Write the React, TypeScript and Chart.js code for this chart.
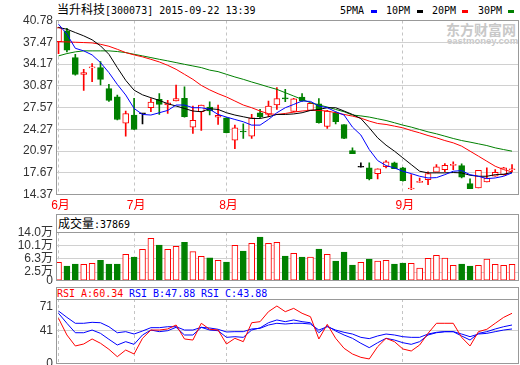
import React, { useEffect, useRef } from 'react';
import { Chart, registerables } from 'chart.js';
Chart.register(...registerables);

// ---- data ----
const opens = [37.58, 39.21, 35.15, 32.61, 33.6, 33.63, 30.43, 29.21, 25.21, 26.43, 26.62, 27.54, 28.8, 27.95, 28.56, 28.96, 24.6, 26.93, 27.65, 26.12, 26.02, 22.62, 23.92, 23.23, 26.78, 26.52, 27.95, 28.95, 26.98, 29.17, 27.13, 28.15, 24.69, 26.78, 25.0, 21.04, 18.51, 18.4, 17.54, 18.6, 19.17, 18.4, 15.2, 16.2, 16.63, 17.75, 18.15, 18.78, 18.76, 16.02, 15.36, 16.27, 17.14, 17.38, 18.12];
const closes = [39.71, 36.26, 32.61, 32.87, 33.68, 31.85, 28.65, 25.76, 26.67, 24.24, 26.62, 28.41, 28.04, 28.3, 28.91, 26.17, 25.61, 27.95, 27.04, 26.37, 23.74, 24.49, 23.85, 26.02, 26.17, 27.8, 28.91, 28.88, 28.88, 28.56, 28.2, 25.26, 27.04, 25.41, 22.87, 20.58, 18.51, 16.73, 18.25, 19.32, 18.3, 16.47, 15.3, 16.28, 17.54, 18.56, 18.8, 18.85, 16.99, 15.26, 18.05, 16.88, 17.75, 18.4, 18.18];
const highs = [39.71, 39.6, 35.65, 33.37, 34.24, 34.54, 31.08, 29.47, 27.04, 28.96, 26.62, 28.91, 29.67, 28.65, 30.99, 30.73, 27.8, 27.95, 28.45, 27.95, 26.05, 24.9, 25.1, 26.52, 27.28, 28.56, 30.58, 30.33, 28.95, 29.67, 28.3, 28.91, 27.13, 26.9, 25.0, 21.45, 19.17, 19.17, 18.25, 19.52, 19.3, 18.5, 17.38, 16.88, 17.8, 18.91, 19.06, 19.32, 19.02, 16.73, 18.05, 18.4, 18.15, 18.5, 18.91];
const lows = [35.76, 36.0, 32.5, 30.17, 31.5, 30.99, 28.5, 25.7, 23.23, 24.2, 25.1, 26.93, 26.52, 26.67, 28.56, 26.1, 23.63, 24.09, 26.43, 25.0, 23.7, 21.34, 22.87, 22.87, 26.02, 26.17, 27.28, 28.45, 26.9, 28.5, 27.1, 25.2, 24.39, 25.1, 22.85, 20.55, 18.51, 16.6, 16.73, 18.4, 18.3, 16.38, 15.1, 16.2, 15.86, 17.75, 17.85, 18.15, 16.9, 15.26, 15.36, 16.27, 17.14, 17.3, 17.8];

const ma5 = [40.22, 38.7, 36.56, 36.17, 35.56, 34.39, 32.87, 31.08, 29.47, 27.43, 26.52, 26.43, 26.78, 27.13, 27.95, 27.95, 27.54, 27.54, 27.3, 26.52, 26.12, 25.76, 25.41, 24.9, 24.9, 25.76, 26.78, 27.54, 28.04, 28.56, 28.5, 27.8, 27.54, 26.93, 26.43, 24.6, 23.4, 21.19, 19.52, 18.76, 18.4, 17.9, 17.54, 17.14, 16.88, 16.93, 17.38, 17.9, 17.99, 17.38, 17.14, 16.78, 16.88, 17.14, 17.65];
const ma10 = [39.71, 39.46, 38.95, 38.45, 37.85, 36.93, 35.65, 33.63, 31.7, 30.2, 29.5, 29.06, 28.65, 28.15, 27.8, 27.43, 27.04, 26.93, 27.39, 27.28, 26.78, 26.43, 26.17, 25.91, 25.91, 26.17, 26.52, 26.52, 26.6, 26.78, 27.13, 27.28, 27.54, 27.54, 27.04, 26.52, 25.9, 24.49, 22.97, 21.86, 20.95, 19.93, 18.91, 17.9, 17.65, 17.65, 17.65, 17.7, 17.65, 17.29, 17.14, 17.14, 17.38, 17.45, 17.7];
const ma20 = [37.58, 37.53, 37.48, 37.43, 37.38, 37.17, 36.87, 36.41, 35.91, 35.56, 35.26, 34.89, 34.49, 33.98, 33.37, 32.61, 31.85, 30.93, 30.25, 29.67, 29.17, 28.56, 27.95, 27.54, 27.04, 26.63, 26.52, 26.67, 26.88, 27.04, 27.13, 27.13, 27.04, 26.78, 26.52, 26.27, 25.96, 25.51, 25.15, 25.0, 24.75, 24.49, 24.08, 23.73, 23.32, 22.97, 22.56, 22.21, 21.71, 20.95, 20.19, 19.42, 18.66, 18.15, 17.8];
const ma30 = [35.41, 35.76, 36.02, 36.17, 36.17, 36.17, 36.17, 36.07, 35.91, 35.65, 35.41, 35.15, 34.89, 34.65, 34.39, 34.13, 33.88, 33.63, 33.25, 33.02, 32.61, 32.21, 31.85, 31.45, 31.08, 30.69, 30.33, 29.82, 29.32, 28.8, 28.3, 27.95, 27.65, 27.28, 26.93, 26.43, 26.3, 26.12, 25.86, 25.6, 25.26, 24.9, 24.6, 24.24, 23.88, 23.58, 23.23, 22.87, 22.56, 22.32, 22.06, 21.8, 21.45, 21.19, 20.95];

const volumes = [5.32, 4.25, 4.83, 4.74, 5.03, 5.9, 4.83, 4.83, 7.64, 6.86, 9.08, 12.26, 10.33, 9.08, 9.95, 11.1, 8.39, 7.06, 6.65, 5.9, 5.41, 10.24, 8.59, 10.82, 12.64, 10.82, 11.1, 7.14, 7.93, 6.86, 6.86, 9.17, 7.64, 5.7, 8.3, 4.54, 5.32, 6.28, 5.7, 5.9, 4.83, 5.12, 5.03, 3.67, 6.48, 7.35, 6.57, 4.45, 4.83, 4.25, 4.45, 6.28, 4.74, 4.45, 4.74];

const rsiA = [56.2, 35.7, 22.2, 24.6, 30.8, 25.5, 18.1, 9.0, 17.2, 12.3, 31.6, 41.8, 41.8, 43.1, 48.0, 30.8, 29.5, 50.1, 42.7, 41.8, 24.6, 31.6, 27.5, 50.8, 52.1, 64.4, 71.4, 64.4, 68.5, 62.4, 58.2, 30.8, 48.8, 31.6, 19.3, 12.3, 8.2, 6.2, 21.3, 31.6, 27.5, 18.5, 16.0, 23.4, 37.7, 50.1, 50.1, 50.1, 32.8, 22.2, 39.8, 42.7, 50.1, 57.4, 62.4];
const rsiB = [62.4, 50.1, 38.5, 38.5, 41.8, 37.7, 30.4, 23.4, 27.5, 24.2, 35.7, 41.8, 39.8, 41.0, 45.1, 35.7, 35.7, 45.1, 41.8, 41.0, 32.8, 33.6, 32.8, 41.8, 44.5, 50.8, 54.2, 52.1, 54.2, 52.1, 50.8, 38.5, 46.8, 40.6, 35.7, 31.6, 25.5, 20.1, 26.2, 31.6, 29.5, 26.2, 24.2, 27.5, 35.7, 38.5, 39.8, 39.8, 34.5, 29.5, 37.7, 39.8, 43.1, 45.9, 48.0];
const rsiC = [65.2, 57.4, 50.1, 50.1, 51.3, 50.8, 45.9, 38.5, 39.8, 36.9, 40.6, 44.7, 44.7, 45.9, 45.9, 41.8, 41.8, 45.1, 44.3, 42.7, 39.4, 39.8, 39.8, 43.1, 43.9, 48.0, 50.1, 49.2, 50.1, 50.1, 49.2, 41.8, 45.9, 41.8, 39.0, 36.9, 32.8, 31.2, 34.5, 36.9, 35.7, 33.6, 32.8, 32.8, 36.9, 39.0, 39.8, 39.8, 36.9, 33.6, 36.9, 37.7, 39.8, 41.8, 43.1];

const priceTicks = [14.37, 17.67, 20.97, 24.27, 27.57, 30.87, 34.17, 37.47, 40.78];
const volTicks = [0, 2.5, 6.3, 10.1, 14.0];
const volTickLabels = ['0', '2.5万', '6.3万', '10.1万', '14.0万'];
const rsiTicks = [0, 41, 71];
const monthIdx = [0, 9, 20, 41];
const monthLabels = ['6月', '7月', '8月', '9月'];

const RED = '#ff0000';
const GREEN = '#008000';
const BLUE = '#0000ff';
const BLACK = '#000000';
const FONT = "'Liberation Sans', Arial, 'Noto Sans CJK SC', sans-serif";

const framePlugin = {
  id: 'frame',
  afterDatasetsDraw(chart: any) {
    const { ctx, chartArea } = chart;
    const x0 = Math.floor(chartArea.left) + 0.5;
    const x1 = Math.ceil(chartArea.right) - 0.5;
    const y0 = Math.floor(chartArea.top) + 0.5;
    const y1 = Math.ceil(chartArea.bottom) - 0.5;
    ctx.save();
    ctx.strokeStyle = '#999999';
    ctx.lineWidth = 1;
    ctx.strokeRect(x0, y0, x1 - x0, y1 - y0);
    ctx.restore();
  },
};

function xScale(showLabels: boolean) {
  return {
    type: 'linear',
    min: -0.3,
    max: 54.83,
    offset: false,
    afterBuildTicks: (s: any) => {
      s.ticks = monthIdx.map((v) => ({ value: v }));
    },
    afterFit: (s: any) => {
      s.height = showLabels ? 17.5 : 0;
      s.paddingLeft = 0;
      s.paddingRight = 0;
    },
    grid: { color: '#c4c4c4', drawTicks: false, offset: false },
    border: { display: false, dash: [3, 3] },
    ticks: showLabels
      ? {
          autoSkip: false,
          maxRotation: 0,
          padding: 4,
          labelOffset: 2,
          color: RED,
          font: { family: FONT, size: 12 },
          callback: (_v: any, i: number) => monthLabels[i],
        }
      : { display: false },
  };
}

function yScale(min: number, max: number, ticks: number[], fmt: (v: number, i: number) => string, gridColor: any) {
  return {
    type: 'linear',
    min,
    max,
    afterBuildTicks: (s: any) => {
      s.ticks = ticks.map((v) => ({ value: v }));
    },
    afterFit: (s: any) => {
      s.width = 56;
      s.paddingTop = 0;
      s.paddingBottom = 0;
    },
    grid: { color: gridColor, drawTicks: false },
    border: { display: false },
    ticks: {
      autoSkip: false,
      padding: 3,
      color: '#333333',
      font: { family: FONT, size: 12 },
      callback: (v: any, i: number) => fmt(Number(v), i),
    },
  };
}

const commonOpts = {
  responsive: false,
  animation: false,
  events: [],
  plugins: { legend: { display: false }, tooltip: { enabled: false } },
};

export default function App() {
  const mainRef = useRef<HTMLCanvasElement>(null);
  const volRef = useRef<HTMLCanvasElement>(null);
  const rsiRef = useRef<HTMLCanvasElement>(null);

  useEffect(() => {
    document.body.style.margin = '0';
    const idx = opens.map((_, i) => i);
    const dir = opens.map((o, i) => (closes[i] > o ? 1 : closes[i] < o ? -1 : 0));
    const candleColor = dir.map((d) => (d > 0 ? RED : d < 0 ? GREEN : BLACK));
    const bodyFill = dir.map((d) => (d > 0 ? '#ffffff' : d < 0 ? GREEN : BLACK));
    const volColor = dir.map((d) => (d >= 0 ? RED : GREEN));
    const volFill = dir.map((d) => (d >= 0 ? '#ffffff' : GREEN));

    const line = (label: string, data: number[], color: string) => ({
      type: 'line',
      label,
      data: data.map((y, i) => ({ x: i, y })),
      borderColor: color,
      borderWidth: 1,
      pointRadius: 0,
      tension: 0,
      fill: false,
    });

    const charts: Chart[] = [];

    charts.push(
      new Chart(mainRef.current as HTMLCanvasElement, {
        type: 'bar',
        data: {
          datasets: [
            line('5PMA', ma5, BLUE),
            line('10PM', ma10, BLACK),
            line('20PM', ma20, RED),
            line('30PM', ma30, GREEN),
            {
              type: 'bar',
              label: 'body',
              data: idx.map((i) => ({ x: i, y: [opens[i], closes[i]] })),
              backgroundColor: bodyFill,
              borderColor: candleColor,
              borderWidth: 1,
              borderSkipped: false,
              barThickness: 6,
              minBarLength: 1,
              grouped: false,
            },
            {
              type: 'bar',
              label: 'wick',
              data: idx.map((i) => ({ x: i, y: [lows[i], highs[i]] })),
              backgroundColor: candleColor,
              borderWidth: 0,
              barThickness: 1,
              minBarLength: 1,
              grouped: false,
            },
          ] as any,
        },
        options: {
          ...commonOpts,
          layout: { padding: { top: 20.5, right: 1, left: 0, bottom: 0 } },
          scales: {
            x: xScale(true),
            y: yScale(14.37, 40.78, priceTicks, (v) => v.toFixed(2), '#d0d0d0'),
          },
        } as any,
        plugins: [framePlugin],
      })
    );

    charts.push(
      new Chart(volRef.current as HTMLCanvasElement, {
        type: 'bar',
        data: {
          datasets: [
            {
              label: '成交量',
              data: idx.map((i) => ({ x: i, y: volumes[i] })),
              backgroundColor: volFill,
              borderColor: volColor,
              borderWidth: 1,
              borderSkipped: false,
              barThickness: 6,
              grouped: false,
            },
          ] as any,
        },
        options: {
          ...commonOpts,
          layout: { padding: { top: 10.3, right: 1, left: 0, bottom: 9.3 } },
          scales: {
            x: xScale(false),
            y: yScale(0, 14.0, volTicks, (_v, i) => volTickLabels[i], '#d0d0d0'),
          },
        } as any,
        plugins: [framePlugin],
      })
    );

    charts.push(
      new Chart(rsiRef.current as HTMLCanvasElement, {
        type: 'line',
        data: {
          datasets: [
            line('RSI_A', rsiA, RED),
            line('RSI_B', rsiB, BLUE),
            line('RSI_C', rsiC, BLUE),
          ] as any,
        },
        options: {
          ...commonOpts,
          layout: { padding: { top: 9, right: 1, left: 0, bottom: 1 } },
          scales: {
            x: xScale(false),
            y: yScale(0, 80, rsiTicks, (v) => String(v), (ctx: any) =>
              ctx.tick && ctx.tick.value === 41 ? '#d0d0d0' : 'rgba(0,0,0,0)'
            ),
          },
        } as any,
        plugins: [framePlugin],
      })
    );

    return () => charts.forEach((c) => c.destroy());
  }, []);

  const abs = (left: number, top: number, extra: any = {}) => ({
    position: 'absolute' as const,
    left,
    top,
    whiteSpace: 'nowrap' as const,
    ...extra,
  });
  const mono = "'DejaVu Sans Mono', 'Liberation Mono', monospace";
  const cjk = "'Noto Sans CJK SC', sans-serif";

  return (
    <div style={{ position: 'fixed', left: 0, top: 0, width: 520, height: 365, background: '#fff' }}>
      {/* title */}
      <div style={abs(57, 2, { lineHeight: '14px', color: '#000' })}>
        <span style={{ fontFamily: cjk, fontSize: 12 }}>当升科技</span>
        <span style={{ fontFamily: mono, fontSize: 10 }}>[300073] 2015-09-22 13:39</span>
      </div>

      {/* legend */}
      <div style={abs(340, 4, { fontFamily: mono, fontSize: 10, lineHeight: '13px' })}>5PMA</div>
      <div style={abs(371, 10, { width: 6, height: 3, background: BLUE })} />
      <div style={abs(386, 4, { fontFamily: mono, fontSize: 10, lineHeight: '13px' })}>10PM</div>
      <div style={abs(417, 10, { width: 6, height: 3, background: BLACK })} />
      <div style={abs(432, 4, { fontFamily: mono, fontSize: 10, lineHeight: '13px' })}>20PM</div>
      <div style={abs(462, 10, { width: 6, height: 3, background: RED })} />
      <div style={abs(478, 4, { fontFamily: mono, fontSize: 10, lineHeight: '13px' })}>30PM</div>
      <div style={abs(508, 10, { width: 6, height: 3, background: GREEN })} />

      {/* watermark */}
      <div style={abs(446, 21, { fontFamily: cjk, fontSize: 14, fontWeight: 700, lineHeight: '16px', color: '#c8c8c8' })}>东方财富网</div>
      <div style={abs(447, 36, { fontFamily: FONT, fontSize: 9.5, fontWeight: 700, lineHeight: '10px', color: '#c8c8c8' })}>eastmoney.com</div>

      {/* volume header */}
      <div
        style={abs(56, 214, {
          width: 463,
          height: 19,
          boxSizing: 'border-box',
          border: '1px solid #999',
          lineHeight: '16px',
          paddingLeft: 1,
        })}
      >
        <span style={{ fontFamily: cjk, fontSize: 12 }}>成交量</span>
        <span style={{ fontFamily: mono, fontSize: 10 }}>:37869</span>
      </div>

      {/* RSI header */}
      <div
        style={abs(56, 287, {
          width: 463,
          height: 13,
          boxSizing: 'border-box',
          border: '1px solid #999',
        })}
      />
      <div style={abs(57, 287, { fontFamily: mono, fontSize: 10, lineHeight: '13px', color: RED })}>RSI_A:60.34</div>
      <div style={abs(129, 287, { fontFamily: mono, fontSize: 10, lineHeight: '13px', color: BLUE })}>RSI_B:47.88</div>
      <div style={abs(201, 287, { fontFamily: mono, fontSize: 10, lineHeight: '13px', color: BLUE })}>RSI_C:43.88</div>

      <canvas ref={mainRef} width={520} height={212} style={{ position: 'absolute', left: 0, top: 0, width: 520, height: 212 }} />
      <canvas ref={rsiRef} width={520} height={75} style={{ position: 'absolute', left: 0, top: 290, width: 520, height: 75 }} />
      <canvas ref={volRef} width={520} height={68} style={{ position: 'absolute', left: 0, top: 222, width: 520, height: 68 }} />
    </div>
  );
}
